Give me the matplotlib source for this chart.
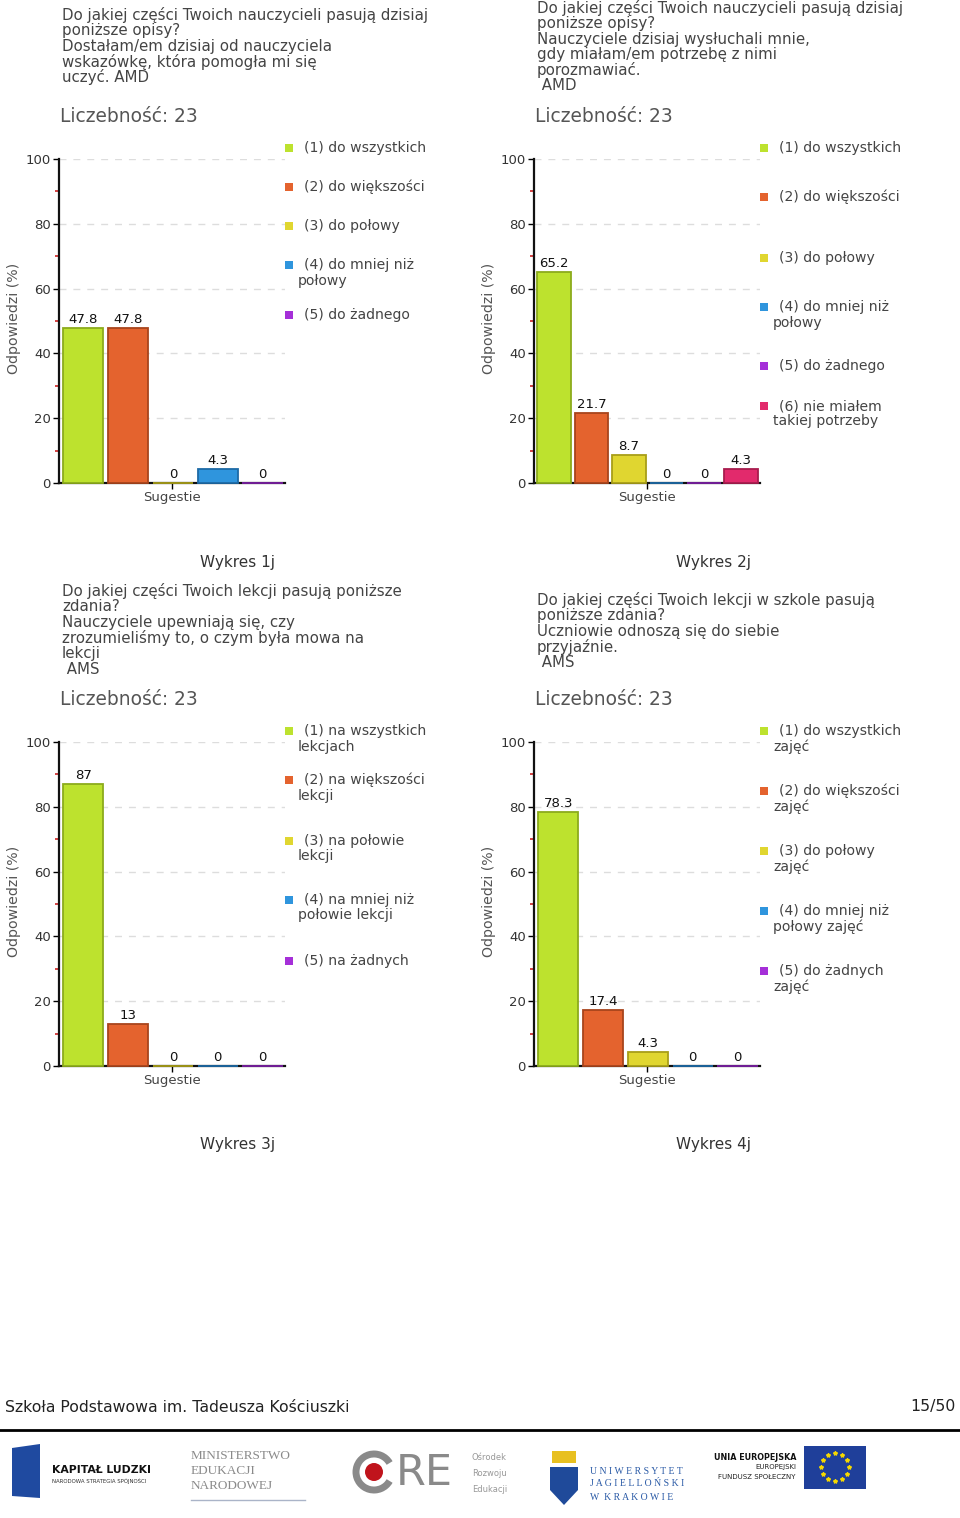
import matplotlib
matplotlib.use('Agg')
import matplotlib.pyplot as plt
from matplotlib.patches import Rectangle, Ellipse, Polygon, Arc
import numpy as np

# ---- data ----
category = 'Sugestie'
count_label = 'Liczebność: 23'

q1 = ['Do jakiej części Twoich nauczycieli pasują dzisiaj', 'poniższe opisy?',
      'Dostałam/em dzisiaj od nauczyciela', 'wskazówkę, która pomogła mi się', 'uczyć. AMD']
v1 = [47.8, 47.8, 0, 4.3, 0]
l1 = ['(1) do wszystkich', '(2) do większości', '(3) do połowy',
      '(4) do mniej niż\npołowy', '(5) do żadnego']

q2 = ['Do jakiej części Twoich nauczycieli pasują dzisiaj', 'poniższe opisy?',
      'Nauczyciele dzisiaj wysłuchali mnie,', 'gdy miałam/em potrzebę z nimi',
      'porozmawiać.', ' AMD']
v2 = [65.2, 21.7, 8.7, 0, 0, 4.3]
l2 = ['(1) do wszystkich', '(2) do większości', '(3) do połowy',
      '(4) do mniej niż\npołowy', '(5) do żadnego', '(6) nie miałem\ntakiej potrzeby']

q3 = ['Do jakiej części Twoich lekcji pasują poniższe', 'zdania?',
      'Nauczyciele upewniają się, czy', 'zrozumieliśmy to, o czym była mowa na',
      'lekcji', ' AMS']
v3 = [87, 13, 0, 0, 0]
l3 = ['(1) na wszystkich\nlekcjach', '(2) na większości\nlekcji', '(3) na połowie\nlekcji',
      '(4) na mniej niż\npołowie lekcji', '(5) na żadnych']

q4 = ['Do jakiej części Twoich lekcji w szkole pasują', 'poniższe zdania?',
      'Uczniowie odnoszą się do siebie', 'przyjaźnie.', ' AMS']
v4 = [78.3, 17.4, 4.3, 0, 0]
l4 = ['(1) do wszystkich\nzajęć', '(2) do większości\nzajęć', '(3) do połowy\nzajęć',
      '(4) do mniej niż\npołowy zajęć', '(5) do żadnych\nzajęć']

captions = ['Wykres 1j', 'Wykres 2j', 'Wykres 3j', 'Wykres 4j']
footer_left = 'Szkoła Podstawowa im. Tadeusza Kościuszki'
footer_right = '15/50'

# ---- style ----
colors = ['#bde22e', '#e4632e', '#e0d630', '#2f95dd', '#a52fd8', '#e22a6c']
edges = ['#8cab1c', '#a8441c', '#a89e18', '#1d6aa6', '#7a1fa3', '#a81c4e']

W, H = 960, 1518
fig = plt.figure(figsize=(W / 100, H / 100), dpi=100)
fig.patch.set_facecolor('white')


def P(x, y):
    return x / W, 1 - y / H


def ftext(x, y, s, **kw):
    fig.text(*P(x, y), s, **kw)


def panel(x0, y0, qlines, qtop, vals, labels, leg_y, caption):
    # question text
    for i, line in enumerate(qlines):
        ftext(x0 + 62, qtop + y0 + i * 15.6, line, fontsize=10.8, color='#444444',
              va='center', ha='left')
    ftext(x0 + 60, y0 + 117, count_label, fontsize=13.4, color='#555555', va='center')

    left, right, top, bottom = x0 + 58.5, x0 + 285, y0 + 159, y0 + 483
    ax = fig.add_axes([left / W, 1 - bottom / H, (right - left) / W, (bottom - top) / H])
    n = len(vals)
    x = np.arange(n)
    ax.bar(x, vals, width=0.9, color=colors[:n], edgecolor=edges[:n], linewidth=1.3,
           zorder=3, clip_on=False)
    for xi, v in zip(x, vals):
        ax.annotate(f'{v:g}', (xi, v), xytext=(0, 1.5), textcoords='offset points',
                    ha='center', va='bottom', fontsize=9.5, color='#111111', zorder=5)
    ax.set_xlim(-0.55, n - 0.5)
    ax.set_ylim(0, 100)
    ax.set_yticks(range(0, 101, 20))
    ax.set_yticks(range(10, 100, 20), minor=True)
    ax.yaxis.grid(True, which='major', color='#dddddd', linestyle=(0, (5, 5)), linewidth=1)
    ax.set_axisbelow(True)
    ax.set_xticks([(n - 1) / 2 - 0.025])
    ax.set_xticklabels([category])
    ax.tick_params(axis='x', length=4, width=1, pad=2, labelsize=9.5, labelcolor='#444444')
    ax.tick_params(axis='y', which='major', length=4, width=1, pad=1.5, labelsize=9.5,
                   labelcolor='#333333')
    ax.tick_params(axis='y', which='minor', length=3, width=1.2, color='#cc2222')
    for s in ['top', 'right']:
        ax.spines[s].set_visible(False)
    for s in ['left', 'bottom']:
        ax.spines[s].set_linewidth(1.6)
        ax.spines[s].set_color('#111111')
    ax.patch.set_alpha(0)

    ftext(x0 + 14, y0 + 318, 'Odpowiedzi (%)', rotation=90, fontsize=10.2,
          color='#555555', va='center', ha='center')

    # legend
    for i, (lab, ly) in enumerate(zip(labels, leg_y)):
        fig.patches.append(Rectangle(P(x0 + 285, y0 + ly + 4), 8 / W, 8 / H,
                                     transform=fig.transFigure, facecolor=colors[i],
                                     edgecolor='none'))
        parts = lab.split('\n')
        ftext(x0 + 304, y0 + ly, parts[0], fontsize=10.1, color='#444444', va='center')
        if len(parts) > 1:
            ftext(x0 + 298, y0 + ly + 15.5, parts[1], fontsize=10.1, color='#444444',
                  va='center')

    ftext(x0 + 238, y0 + 562, caption, fontsize=11, color='#333333', ha='center',
          va='center')


panel(0, 0, q1, 15, v1, l1, [148, 187, 226, 265, 315], captions[0])
panel(475, 0, q2, 8, v2, l2, [148, 197, 258, 307, 366, 406], captions[1])
panel(0, 583, q3, 8, v3, l3, [148, 197, 258, 317, 378], captions[2])
panel(475, 583, q4, 17, v4, l4, [148, 208, 268, 328, 388], captions[3])

# ---- footer ----
ftext(5, 1407, footer_left, fontsize=11.3, color='#222222', va='center')
ftext(955, 1407, footer_right, fontsize=11.3, color='#222222', va='center', ha='right')
fig.lines.append(plt.Line2D([0, 1], [1 - 1430 / H] * 2, transform=fig.transFigure,
                            color='black', linewidth=2))

# logos (rough sketches)
fig.patches.append(Polygon([P(12, 1448), P(40, 1444), P(40, 1498), P(12, 1496)],
                           closed=True, transform=fig.transFigure, facecolor='#1f4aa0'))
ftext(52, 1470, 'KAPITAŁ LUDZKI', fontsize=7.8, fontweight='bold', color='#111111', va='center')
ftext(52, 1481, 'NARODOWA STRATEGIA SPÓJNOŚCI', fontsize=3.9, color='#333333', va='center')

for i, t in enumerate(['MINISTERSTWO', 'EDUKACJI', 'NARODOWEJ']):
    ftext(191, 1456 + i * 15, t, fontsize=9.5, family='Liberation Serif', color='#8a8a8a',
          va='center')
fig.lines.append(plt.Line2D([191 / W, 305 / W], [1 - 1500 / H] * 2,
                            transform=fig.transFigure, color='#aab4c8', linewidth=1))

fig.patches.append(Arc(P(374, 1472), 36 / W, 36 / H, theta1=20, theta2=340,
                       transform=fig.transFigure, edgecolor='#8a8a8a', linewidth=5))
fig.patches.append(Ellipse(P(374, 1472), 18 / W, 18 / H, transform=fig.transFigure,
                           facecolor='#c0141c', edgecolor='none'))
ftext(396, 1473, 'RE', fontsize=31, color='#8a8a8a', va='center')
for i, t in enumerate(['Ośrodek', 'Rozwoju', 'Edukacji']):
    ftext(472, 1457 + i * 16, t, fontsize=6, color='#999999', va='center')

fig.patches.append(Polygon([P(550, 1467), P(578, 1467), P(578, 1490), P(564, 1505),
                            P(550, 1490)], closed=True, transform=fig.transFigure,
                           facecolor='#1f4a9a'))
fig.patches.append(Rectangle(P(552, 1463), 24 / W, 12 / H, transform=fig.transFigure,
                             facecolor='#e8c020'))
for i, t in enumerate(['U N I W E R S Y T E T', 'J A G I E L L O Ń S K I', 'W  K R A K O W I E']):
    ftext(590, 1471 + i * 13, t, fontsize=7, family='Liberation Serif', color='#2a5aa6',
          va='center')

ftext(796, 1457, 'UNIA EUROPEJSKA', fontsize=5.8, fontweight='bold', color='#111111',
      va='center', ha='right')
ftext(796, 1467, 'EUROPEJSKI', fontsize=5, color='#222222', va='center', ha='right')
ftext(796, 1477, 'FUNDUSZ SPOŁECZNY', fontsize=5, color='#222222', va='center', ha='right')
fig.patches.append(Rectangle(P(804, 1489), 62 / W, 43 / H, transform=fig.transFigure,
                             facecolor='#1f3f9a'))
ang = np.linspace(0, 2 * np.pi, 13)[:-1]
sx = (835 + 14 * np.cos(ang)) / W
sy = 1 - (1467 + 14 * np.sin(ang)) / H
fig.lines.append(plt.Line2D(sx, sy, transform=fig.transFigure, linestyle='none',
                            marker='*', markersize=3, color='#f5d800'))

fig.savefig('out.png', dpi=100, facecolor='white')
